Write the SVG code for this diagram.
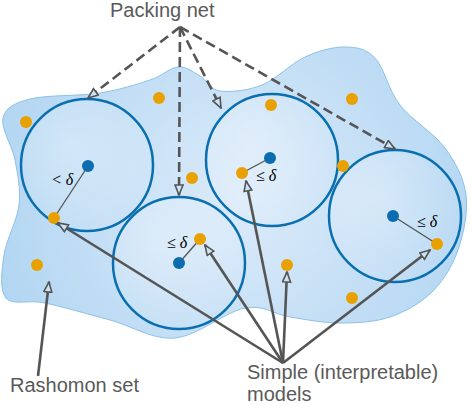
<svg xmlns="http://www.w3.org/2000/svg" width="472" height="406" viewBox="0 0 472 406">
<defs>
<radialGradient id="bg" cx="240" cy="200" r="250" gradientUnits="userSpaceOnUse">
<stop offset="0" stop-color="#dcebfa"/>
<stop offset="1" stop-color="#b3d6f2"/>
</radialGradient>
<radialGradient id="cg" cx="0.35" cy="0.35" r="0.75">
<stop offset="0" stop-color="#ffffff" stop-opacity="0.3"/>
<stop offset="1" stop-color="#ffffff" stop-opacity="0.02"/>
</radialGradient>
<marker id="ah" viewBox="-1 -1 12 10" refX="10" refY="4" markerWidth="12" markerHeight="10" markerUnits="userSpaceOnUse" orient="auto">
<path d="M0,0 L10,4 L0,8 Z" fill="#cde3f6" stroke="#555" stroke-width="1.6" stroke-dasharray="none" stroke-linejoin="miter"/>
</marker>
</defs>
<style>
.lbl{font-family:"Liberation Sans",Arial,sans-serif;font-size:20px;fill:#5a5a5a}
.dl{font-family:"Liberation Serif","Times New Roman",serif;font-style:italic;font-size:16px;fill:#000}
.ring{fill:url(#cg);stroke:#0a6fae;stroke-width:2.5}
.m{fill:#e8a100}
.c{fill:#0b6db0}
.dash{fill:none;stroke:#555;stroke-width:2.6;stroke-dasharray:10 5;marker-end:url(#ah)}
.sol{fill:none;stroke:#555;stroke-width:2.6;marker-end:url(#ah)}
.rad{stroke:#555;stroke-width:1.3}
</style>
<g id="rashomon-set">
<path d="M3,118 C5.5,107.8 13.8,103.2 30,99 C46.2,94.8 80,96.2 100,93 C120,89.8 137,84.3 150,80 C163,75.7 169.7,67.7 178,67 C186.3,66.3 193,72 200,76 C207,80 209.7,89.5 220,91 C230.3,92.5 247.8,90.7 262,85 C276.2,79.3 291.2,63.3 305,57 C318.8,50.7 333.3,46.8 345,47 C356.7,47.2 365.8,48.3 375,58 C384.2,67.7 388.3,90 400,105 C411.7,120 434,133 445,148 C456,163 463.8,178 466,195 C468.2,212 463.7,233.8 458,250 C452.3,266.2 443.3,280.8 432,292 C420.7,303.2 405.3,311.8 390,317 C374.7,322.2 356.7,323 340,323 C323.3,323 305.8,319.5 290,317 C274.2,314.5 264.2,304.5 245,308 C225.8,311.5 197.5,336 175,338 C152.5,340 131.7,325.8 110,320 C88.3,314.2 62.3,306.7 45,303 C27.7,299.3 12.8,306 6,298 C-0.8,290 1.8,270.5 4,255 C6.2,239.5 17.2,220.8 19,205 C20.8,189.2 17.7,174.5 15,160 C12.3,145.5 0.5,128.2 3,118 Z" fill="url(#bg)" stroke="#8cc2ea" stroke-width="1"/>
</g>
<g id="ball-1"><circle class="ring" cx="87" cy="165" r="66"/></g>
<g id="ball-2"><circle class="ring" cx="179" cy="263" r="66"/></g>
<g id="ball-3"><circle class="ring" cx="272" cy="160" r="66"/></g>
<g id="ball-4"><circle class="ring" cx="395" cy="216" r="66"/></g>
<g id="radii">
<line class="rad" x1="88" y1="166" x2="54" y2="218"/>
<line class="rad" x1="179" y1="263" x2="200" y2="239"/>
<line class="rad" x1="270" y1="158" x2="242" y2="173"/>
<line class="rad" x1="393" y1="216" x2="437" y2="244"/>
</g>
<g id="centers">
<circle class="c" cx="88" cy="166" r="6"/>
<circle class="c" cx="179" cy="263" r="6"/>
<circle class="c" cx="270" cy="158" r="6"/>
<circle class="c" cx="393" cy="216" r="6"/>
</g>
<g id="models">
<circle class="m" cx="54" cy="218" r="6"/>
<circle class="m" cx="200" cy="239" r="6"/>
<circle class="m" cx="242" cy="173" r="6"/>
<circle class="m" cx="437" cy="244" r="6"/>
<circle class="m" cx="26" cy="122" r="6"/>
<circle class="m" cx="159" cy="98" r="6"/>
<circle class="m" cx="271" cy="105" r="6"/>
<circle class="m" cx="352" cy="99" r="6"/>
<circle class="m" cx="192" cy="178" r="6"/>
<circle class="m" cx="343" cy="166" r="6"/>
<circle class="m" cx="287" cy="265" r="6"/>
<circle class="m" cx="37" cy="265" r="6"/>
<circle class="m" cx="352" cy="298" r="6"/>
</g>
<g id="delta-labels">
<text class="dl" x="51" y="185">&lt; δ</text>
<text class="dl" x="167" y="248">≤ δ</text>
<text class="dl" x="256" y="181">≤ δ</text>
<text class="dl" x="417" y="227">≤ δ</text>
</g>
<g id="connectors">
<line class="dash" x1="180" y1="27" x2="88" y2="98"/>
<line class="dash" x1="180" y1="27" x2="179" y2="195"/>
<line class="dash" x1="180" y1="27" x2="221" y2="108"/>
<line class="dash" x1="180" y1="27" x2="395" y2="149"/>
<line class="sol" x1="283" y1="363" x2="58" y2="223"/>
<line class="sol" x1="283" y1="363" x2="205" y2="245"/>
<line class="sol" x1="283" y1="363" x2="246" y2="181"/>
<line class="sol" x1="283" y1="363" x2="287" y2="272"/>
<line class="sol" x1="283" y1="363" x2="430" y2="250"/>
<line class="sol" x1="38" y1="376" x2="49" y2="282"/>
</g>
<g id="label-packing"><text class="lbl" x="110" y="17">Packing net</text></g>
<g id="label-rashomon"><text class="lbl" x="10" y="392">Rashomon set</text></g>
<g id="label-simple"><text class="lbl" x="247" y="379">Simple (interpretable)</text><text class="lbl" x="247" y="401">models</text></g>
</svg>
